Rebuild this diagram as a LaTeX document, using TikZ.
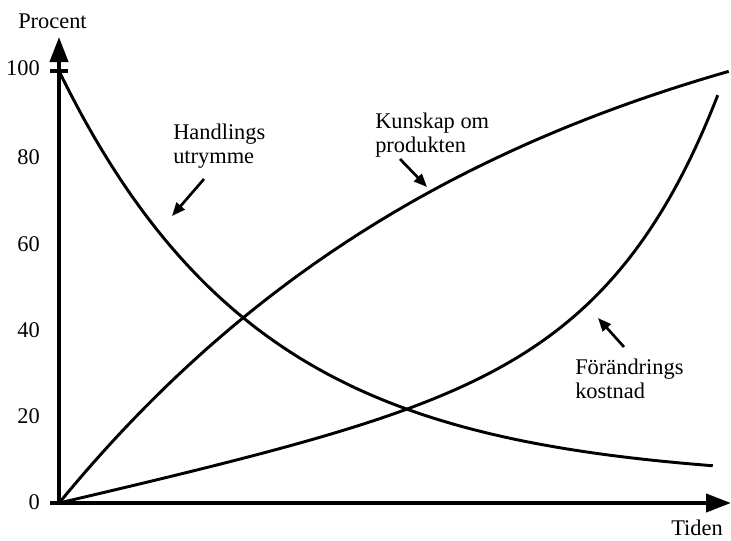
\documentclass[tikz,border=0pt]{standalone}
\usepackage{fontspec}
\setmainfont{Liberation Serif}
\usetikzlibrary{arrows.meta}
\begin{document}
\begin{tikzpicture}[x=0.75pt,y=-0.75pt,
  axis/.style={line width=3pt, -{Triangle[length=18.75pt,width=13.5pt]}},
  curve/.style={line width=2.2pt, line join=round},
  pointer/.style={line width=2pt, -{Triangle[length=10pt,width=8pt]}},
  lbl/.style={inner sep=0pt, font=\fontsize{16.8}{18}\selectfont},
]
\useasboundingbox (0,0) rectangle (731,540);
% axes
\coordinate (O) at (59,503);
\coordinate (ytip) at (59,37);
\coordinate (x0) at (50,503);
\coordinate (xtip) at (731,503);
\draw[axis] (O) -- (ytip);
\draw[axis] (x0) -- (xtip);
\draw[line width=3pt] (50,71) -- (68,71);
% curves
\draw[curve] plot[domain=0:1,samples=150] ({59+655*\x},{503-4.32*(5+95*exp(-3.27*\x))});
\draw[curve] plot[domain=0:1,samples=150] ({59+671*\x},{503-432*(1-exp(-1.45*\x))/(1-exp(-1.45))});
\draw[curve] plot[domain=0:1,samples=150] ({59+660*\x},{503-4.32*(34.8*\x+0.15*(exp(6*\x)-1))});
% axis labels
\node[lbl, anchor=base west] (procent) at (18,28) {Procent};
\node[lbl, anchor=base west] (tiden) at (671,535) {Tiden};
\foreach \v/\yy in {100/68,80/157.4,60/243.8,40/330.2,20/416.6,0/502}
  \node[lbl, anchor=east] (y\v) at (40,\yy) {\v};
% curve labels
\node[lbl, anchor=base west] (hand) at (173,139)
  {\begin{tabular}[t]{@{}l@{}}Handlings\\utrymme\end{tabular}};
\node[lbl, anchor=base west] (kuns) at (375,128)
  {\begin{tabular}[t]{@{}l@{}}Kunskap om\\produkten\end{tabular}};
\node[lbl, anchor=base west] (forand) at (575,374)
  {\begin{tabular}[t]{@{}l@{}}Förändrings\\kostnad\end{tabular}};
% pointers
\coordinate (hA) at (204,179); \coordinate (hB) at (172,216);
\coordinate (kA) at (400,159); \coordinate (kB) at (427,187);
\coordinate (fA) at (624,347); \coordinate (fB) at (598,318);
\draw[pointer] (hA) -- (hB);
\draw[pointer] (kA) -- (kB);
\draw[pointer] (fA) -- (fB);
\end{tikzpicture}
\end{document}
